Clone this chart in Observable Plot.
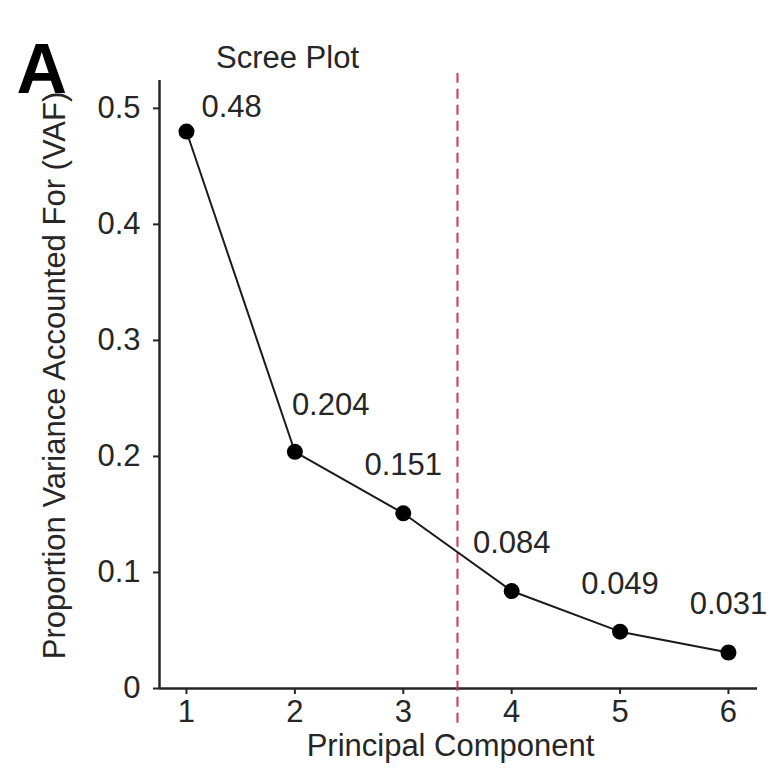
<!DOCTYPE html>
<html>
<head>
<meta charset="utf-8">
<script src="https://cdn.jsdelivr.net/npm/d3@7"></script>
<script src="https://cdn.jsdelivr.net/npm/@observablehq/plot@0.6"></script>
<style>
  html, body { margin: 0; padding: 0; background: #fff; }
  #chart { width: 774px; height: 774px; }
</style>
</head>
<body>
<div id="chart"></div>
<script>
// ---- data ----
const components = [1, 2, 3, 4, 5, 6];
const vaf = [0.48, 0.204, 0.151, 0.084, 0.049, 0.031];
const vafLabels = ["0.48", "0.204", "0.151", "0.084", "0.049", "0.031"];
const cutoff = [3.5];
const xTicks = [1, 2, 3, 4, 5, 6];
const yTicks = [0, 0.1, 0.2, 0.3, 0.4, 0.5];
const yTickLabels = ["0", "0.1", "0.2", "0.3", "0.4", "0.5"];
const panelLabel = ["A"];
const titleText = ["Scree Plot"];
const xLabel = ["Principal Component"];
const yLabel = ["Proportion Variance Accounted For (VAF)"];

const rows = components.map((c, i) => ({pc: c, vaf: vaf[i], label: vafLabels[i], i}));

const font = "'Liberation Sans', Arial, sans-serif";
const ink = "#262626";
const xDomain = [0.751, 6.268];
const yDomain = [0, 0.524];

const chart = Plot.plot({
  width: 774,
  height: 774,
  marginLeft: 159,
  marginRight: 17,
  marginTop: 80,
  marginBottom: 86,
  style: {fontFamily: font, color: ink, background: "#fff", overflow: "visible"},
  x: {domain: xDomain},
  y: {domain: yDomain},
  marks: [
    Plot.axisX(xTicks, {tickSize: 6, tickPadding: 5, fontSize: 31, label: null, stroke: ink, strokeWidth: 2, fill: ink}),
    Plot.axisY(yTicks, {tickSize: 6, tickPadding: 13, fontSize: 31, label: null, stroke: ink, strokeWidth: 2, fill: ink,
      tickFormat: (d) => yTickLabels[yTicks.indexOf(d)]}),
    Plot.ruleY([yDomain[0]], {stroke: ink, strokeWidth: 2.5}),
    Plot.ruleX([xDomain[0]], {stroke: ink, strokeWidth: 2.5}),
    Plot.ruleX(cutoff, {x: d => d, y1: () => -0.03, y2: () => 0.53, stroke: "#cc3355", strokeWidth: 2, strokeDasharray: "10,6"}),
    Plot.line(rows, {x: "pc", y: "vaf", stroke: "#1a1a1a", strokeWidth: 2}),
    Plot.dot(rows, {x: "pc", y: "vaf", r: 8, fill: "#000", stroke: "none"}),
    Plot.text(rows.filter(d => d.i === 0), {x: "pc", y: "vaf", text: "label", textAnchor: "start", dx: 15, dy: -24, fontSize: 31, fill: ink}),
    Plot.text(rows.filter(d => d.i === 1), {x: "pc", y: "vaf", text: "label", textAnchor: "start", dx: -3, dy: -47, fontSize: 31, fill: ink}),
    Plot.text(rows.filter(d => d.i >= 2), {x: "pc", y: "vaf", text: "label", dy: -48, fontSize: 31, fill: ink}),
    Plot.text(xLabel, {frameAnchor: "bottom", text: d => d, textAnchor: "middle", dx: -8, dy: 67, fontSize: 31, fill: ink}),
    Plot.text(yLabel, {frameAnchor: "left", text: d => d, textAnchor: "middle", rotate: -90, dx: -104, dy: -9, fontSize: 31, fill: ink}),
    Plot.text(titleText, {frameAnchor: "top-left", text: d => d, textAnchor: "middle", dx: 128, dy: -35, fontSize: 31, fill: ink}),
    Plot.text(panelLabel, {frameAnchor: "top-left", text: d => d, textAnchor: "start", dx: -143, dy: -37, fontSize: 70, fontWeight: "bold", fill: "#000"})
  ]
});
document.getElementById("chart").append(chart);
</script>
</body>
</html>
